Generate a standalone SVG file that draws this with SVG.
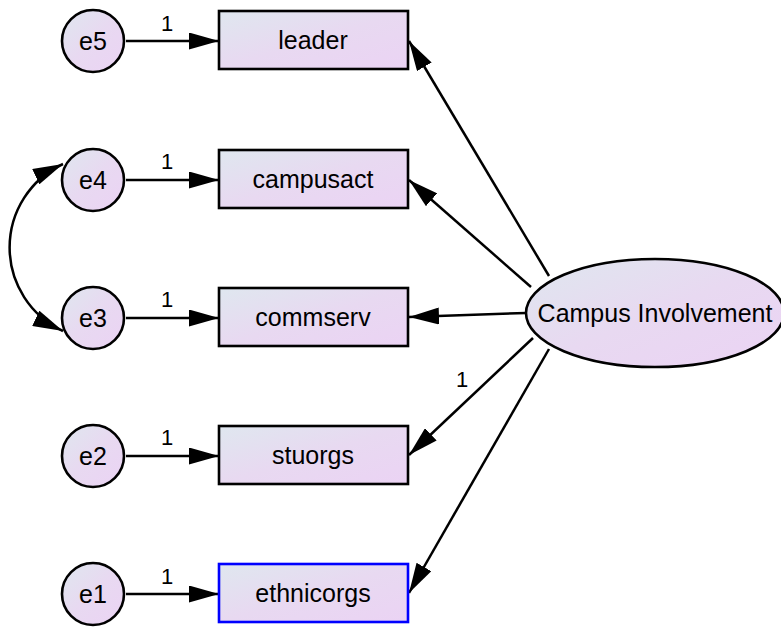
<svg xmlns="http://www.w3.org/2000/svg" width="781" height="628" viewBox="0 0 781 628">
  <defs>
    <linearGradient id="fillGrad" x1="0" y1="0" x2="1" y2="1">
      <stop offset="0" stop-color="#dfe7ef"/>
      <stop offset="0.5" stop-color="#e8d9f1"/>
      <stop offset="1" stop-color="#ebd3f4"/>
    </linearGradient>
    <marker id="arrow" viewBox="0 0 30 17" refX="30" refY="8.5" markerWidth="30" markerHeight="17" markerUnits="userSpaceOnUse" orient="auto-start-reverse">
      <path d="M0,0 L30,8.5 L0,17 Z" fill="#000"/>
    </marker>
    <style>
      .node { fill: url(#fillGrad); stroke: #000; stroke-width: 2.6; }
      .obs-blue { stroke: #0000ff; }
      .label { font-family: "Liberation Sans", Arial, sans-serif; font-size: 25px; fill: #000; text-anchor: middle; dominant-baseline: central; }
      .weight { font-family: "Liberation Sans", Arial, sans-serif; font-size: 22px; fill: #000; text-anchor: middle; }
      .path { stroke: #000; stroke-width: 2.5; fill: none; marker-end: url(#arrow); }
    </style>
  </defs>

  <g id="connectors">
    <!-- error terms to observed indicators -->
    <line class="path" x1="126" y1="41" x2="219" y2="41"/>
    <line class="path" x1="126" y1="180" x2="219" y2="180"/>
    <line class="path" x1="126" y1="318" x2="219" y2="318"/>
    <line class="path" x1="126" y1="456" x2="219" y2="456"/>
    <line class="path" x1="126" y1="594" x2="219" y2="594"/>
    <!-- latent factor loadings -->
    <line class="path" x1="549" y1="276" x2="409" y2="41"/>
    <line class="path" x1="531" y1="287" x2="409" y2="180"/>
    <line class="path" x1="526" y1="313" x2="409" y2="317"/>
    <line class="path" x1="533" y1="338" x2="409" y2="455"/>
    <line class="path" x1="549" y1="349" x2="409" y2="593"/>
    <!-- covariance between e4 and e3 -->
    <path d="M 63 164 A 92 92 0 0 0 63 331" stroke="#000" stroke-width="2.5" fill="none" marker-start="url(#arrow)" marker-end="url(#arrow)"/>
    <!-- fixed parameter labels -->
    <text class="weight" x="167" y="31">1</text>
    <text class="weight" x="167" y="169">1</text>
    <text class="weight" x="167" y="307">1</text>
    <text class="weight" x="167" y="445">1</text>
    <text class="weight" x="167" y="584">1</text>
    <text class="weight" x="462" y="387">1</text>
  </g>

  <g id="e5"><circle class="node" cx="93" cy="41" r="31"/><text class="label" x="93" y="41">e5</text></g>
  <g id="e4"><circle class="node" cx="93" cy="180" r="31"/><text class="label" x="93" y="180">e4</text></g>
  <g id="e3"><circle class="node" cx="93" cy="318" r="31"/><text class="label" x="93" y="318">e3</text></g>
  <g id="e2"><circle class="node" cx="93" cy="456" r="31"/><text class="label" x="93" y="456">e2</text></g>
  <g id="e1"><circle class="node" cx="93" cy="594" r="31"/><text class="label" x="93" y="594">e1</text></g>

  <g id="leader"><rect class="node" x="219" y="11" width="189" height="58"/><text class="label" x="313" y="40">leader</text></g>
  <g id="campusact"><rect class="node" x="219" y="150" width="189" height="58"/><text class="label" x="313" y="179">campusact</text></g>
  <g id="commserv"><rect class="node" x="219" y="288" width="189" height="58"/><text class="label" x="313" y="317">commserv</text></g>
  <g id="stuorgs"><rect class="node" x="219" y="426" width="189" height="58"/><text class="label" x="313" y="455">stuorgs</text></g>
  <g id="ethnicorgs"><rect class="node obs-blue" x="219" y="564" width="189" height="58"/><text class="label" x="313" y="593">ethnicorgs</text></g>

  <g id="campus-involvement"><ellipse class="node" cx="655" cy="313" rx="129" ry="54"/><text class="label" x="655" y="313">Campus Involvement</text></g>
</svg>
